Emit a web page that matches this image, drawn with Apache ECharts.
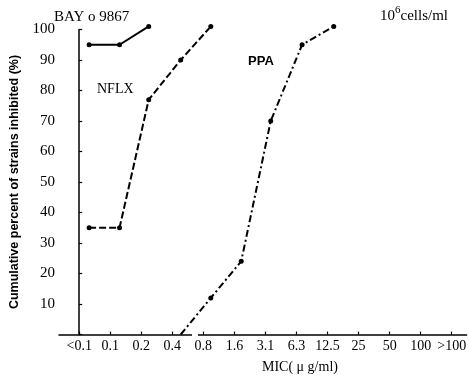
<!DOCTYPE html>
<html>
<head>
<meta charset="utf-8">
<script src="https://cdn.jsdelivr.net/npm/echarts@6/dist/echarts.min.js"></script>
<style>
  html, body { margin: 0; padding: 0; background: #fff; }
  #chart { width: 469px; height: 380px; }
</style>
</head>
<body>
<div id="chart"></div>
<script>
// MIC categories on the x axis (one tick per category, index 0..12)
const categories = ['<0.1', '0.1', '0.2', '0.4', '0.8', '1.6', '3.1', '6.3', '12.5', '25', '50', '100', '>100'];
const yTicks = [10, 20, 30, 40, 50, 60, 70, 80, 90, 100];

// x positions are read as fractional category index
const bayX = [0.32, 1.3, 2.24];
const bayY = [95, 95, 101];
const nflxX = [0.32, 1.3, 2.24, 3.27, 4.24];
const nflxY = [35, 35, 77, 90, 101];
const ppaX = [3.27, 4.24, 5.22, 6.17, 7.18, 8.2];
const ppaY = [0, 12, 24, 70, 95, 101];

const pairs = (xs, ys) => xs.map((x, i) => [x, ys[i]]);

const serif = 'Liberation Serif';
const black = '#000';

const chart = echarts.init(document.getElementById('chart'));

const option = {
    animation: false,
    backgroundColor: '#fff',
    grid: {
        left: 54.5,
        right: 0,
        top: 29.5,
        bottom: 45.5
    },
    xAxis: {
        type: 'value',
        min: -0.65,
        max: 12.48,
        splitLine: { show: false },
        axisLine: { lineStyle: { color: black, width: 1.5 } },
        axisTick: {
            inside: true,
            length: 3,
            customValues: categories.map((c, i) => i),
            lineStyle: { color: black, width: 1.2 }
        },
        axisLabel: {
            customValues: categories.map((c, i) => i),
            formatter: v => categories[Math.round(v)],
            color: black,
            fontFamily: serif,
            fontSize: 14,
            margin: 5
        }
    },
    yAxis: {
        type: 'value',
        min: 0,
        max: 100,
        interval: 10,
        splitLine: { show: false },
        axisLine: { show: true, lineStyle: { color: black, width: 1.5 } },
        axisTick: {
            inside: true,
            length: 3,
            lineStyle: { color: black, width: 1.2 }
        },
        axisLabel: {
            formatter: v => (yTicks.indexOf(v) >= 0 ? String(v) : ''),
            color: black,
            fontFamily: serif,
            fontSize: 15,
            margin: 4
        },
        name: 'Cumulative percent of strains inhibited (%)',
        nameLocation: 'middle',
        nameGap: 38,
        nameTextStyle: {
            color: black,
            fontFamily: 'Liberation Sans',
            fontWeight: 'bold',
            fontSize: 12.5
        }
    },
    series: [
        {
            name: 'BAY o 9867',
            type: 'line',
            data: pairs(bayX, bayY),
            clip: false,
            symbol: 'circle',
            symbolSize: 5,
            itemStyle: { color: black },
            lineStyle: { color: black, width: 2, type: 'solid' }
        },
        {
            name: 'NFLX',
            type: 'line',
            data: pairs(nflxX, nflxY),
            clip: false,
            symbol: 'circle',
            symbolSize: 5,
            itemStyle: { color: black },
            lineStyle: { color: black, width: 2, type: [7, 3] }
        },
        {
            name: 'PPA',
            type: 'line',
            data: pairs(ppaX, ppaY),
            clip: false,
            symbol: (v, p) => (p.dataIndex === 0 ? 'none' : 'circle'),
            symbolSize: 5,
            itemStyle: { color: black },
            lineStyle: { color: black, width: 2, type: [7, 3, 2, 3] }
        }
    ],
    graphic: [
        // small gap in the x axis line between 0.4 and 0.8
        {
            type: 'rect',
            left: 192,
            top: 331,
            zlevel: 1,
            z: 100,
            shape: { width: 6, height: 7 },
            style: { fill: '#fff' }
        },
        {
            type: 'text',
            left: 54, top: 10,
            style: { text: 'BAY o 9867', font: '15px "Liberation Serif"', fill: black }
        },
        {
            type: 'text',
            left: 97, top: 82,
            style: { text: 'NFLX', font: '14px "Liberation Serif"', fill: black }
        },
        {
            type: 'text',
            left: 248, top: 55,
            style: { text: 'PPA', font: 'bold 13px "Liberation Sans"', fill: black }
        },
        {
            type: 'text',
            left: 380, top: 5,
            style: {
                text: '{b|10}{s|6}{b|cells/ml}',
                fill: black,
                rich: {
                    b: { fontFamily: serif, fontSize: 15, fill: black, verticalAlign: 'bottom', lineHeight: 19 },
                    s: { fontFamily: serif, fontSize: 11, fill: black, verticalAlign: 'top', lineHeight: 19 }
                }
            }
        },
        {
            type: 'text',
            left: 262, top: 360,
            style: { text: 'MIC( μ g/ml)', font: '14px "Liberation Serif"', fill: black }
        }
    ]
};

chart.setOption(option);
</script>
</body>
</html>
